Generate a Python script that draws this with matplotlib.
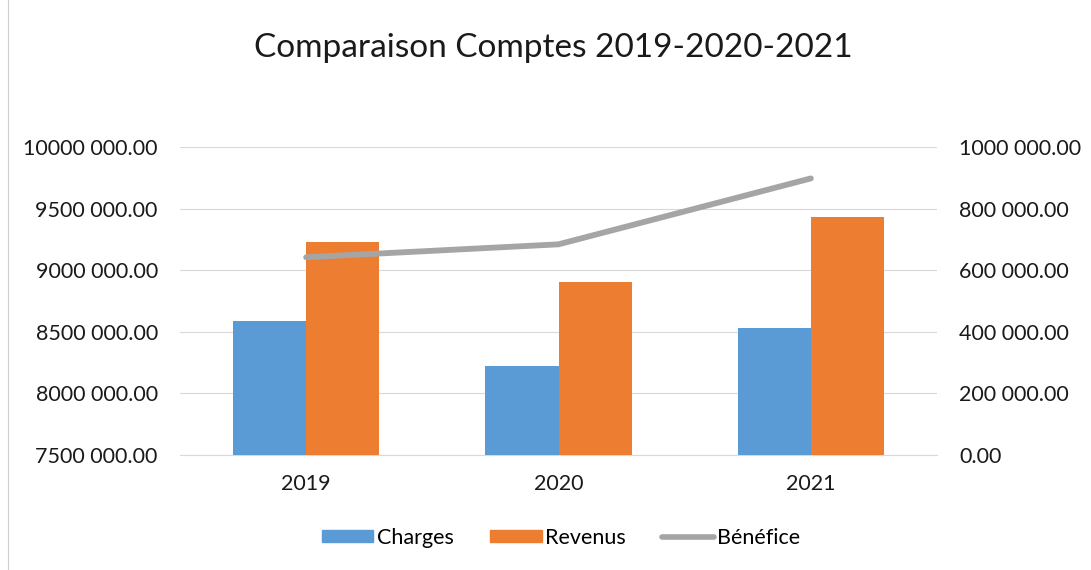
import matplotlib
matplotlib.use("Agg")
import matplotlib.pyplot as plt
import numpy as np
from matplotlib.ticker import FuncFormatter, MultipleLocator
from matplotlib.patches import Patch
from matplotlib.lines import Line2D

years = ["2019", "2020", "2021"]
charges = [8587000, 8224000, 8530000]
revenus = [9228000, 8905000, 9430000]
benefice = [642000, 684000, 898000]

title = "Comparaison Comptes 2019-2020-2021"
FONT = "Lato"
BLUE = "#5B9BD5"
ORANGE = "#ED7D31"
GREY = "#A5A5A5"


def fmt(v, pos=None):
    v = int(round(v))
    if v == 0:
        return "0.00"
    return f"{v // 1000} {v % 1000:03d}.00"


fig = plt.figure(figsize=(10.91, 5.70), dpi=100)
ax = fig.add_axes([180 / 1091, 1 - 455 / 570, (937 - 180) / 1091, (455 - 147) / 570])
ax2 = ax.twinx()

x = np.arange(len(years))
w = 0.29
ax.bar(x - w / 2, charges, width=w, color=BLUE, zorder=3)
ax.bar(x + w / 2, revenus, width=w, color=ORANGE, zorder=3)
ax.set_xlim(-0.5, 2.5)
ax.set_ylim(7500000, 10000000)
ax.yaxis.set_major_locator(MultipleLocator(500000))
ax.yaxis.set_major_formatter(FuncFormatter(fmt))
ax.grid(axis="y", color="#d9d9d9", linewidth=0.8, zorder=0)
ax.set_axisbelow(True)
ax.set_xticks(x)
ax.set_xticklabels(years)

ax2.plot(x, benefice, color=GREY, linewidth=4.2, solid_capstyle="round", zorder=5)
ax2.set_ylim(0, 1000000)
ax2.yaxis.set_major_locator(MultipleLocator(200000))
ax2.yaxis.set_major_formatter(FuncFormatter(fmt))

for a in (ax, ax2):
    for s in a.spines.values():
        s.set_visible(False)
    a.tick_params(length=0, labelsize=15.5, colors="#1a1a1a")
    for lbl in a.get_xticklabels() + a.get_yticklabels():
        lbl.set_fontfamily(FONT)
ax.spines["bottom"].set_visible(True)
ax.spines["bottom"].set_color("#d9d9d9")
ax.tick_params(axis="y", pad=16)
ax2.tick_params(axis="y", pad=16)
ax.tick_params(axis="x", pad=14)

fig.text(553 / 1091, 1 - 48 / 570, title, ha="center", va="center",
         fontsize=24, fontfamily=FONT, color="#1a1a1a")

handles = [
    Patch(facecolor=BLUE, edgecolor=BLUE),
    Patch(facecolor=ORANGE, edgecolor=ORANGE),
    Line2D([0], [0], color=GREY, linewidth=4, solid_capstyle="round"),
]
fig.legend(handles, ["Charges", "Revenus", "Bénéfice"], loc="center",
           bbox_to_anchor=(561 / 1091, 1 - 538 / 570), ncol=3, frameon=False,
           prop={"family": FONT, "size": 15.5}, handlelength=2.4,
           handleheight=0.5, handletextpad=0.15, columnspacing=1.7)

fig.add_artist(Line2D([8 / 1091, 8 / 1091], [0, 1], color="#cfcfcf", linewidth=0.8))

fig.savefig("out.png", dpi=100, facecolor="white")
